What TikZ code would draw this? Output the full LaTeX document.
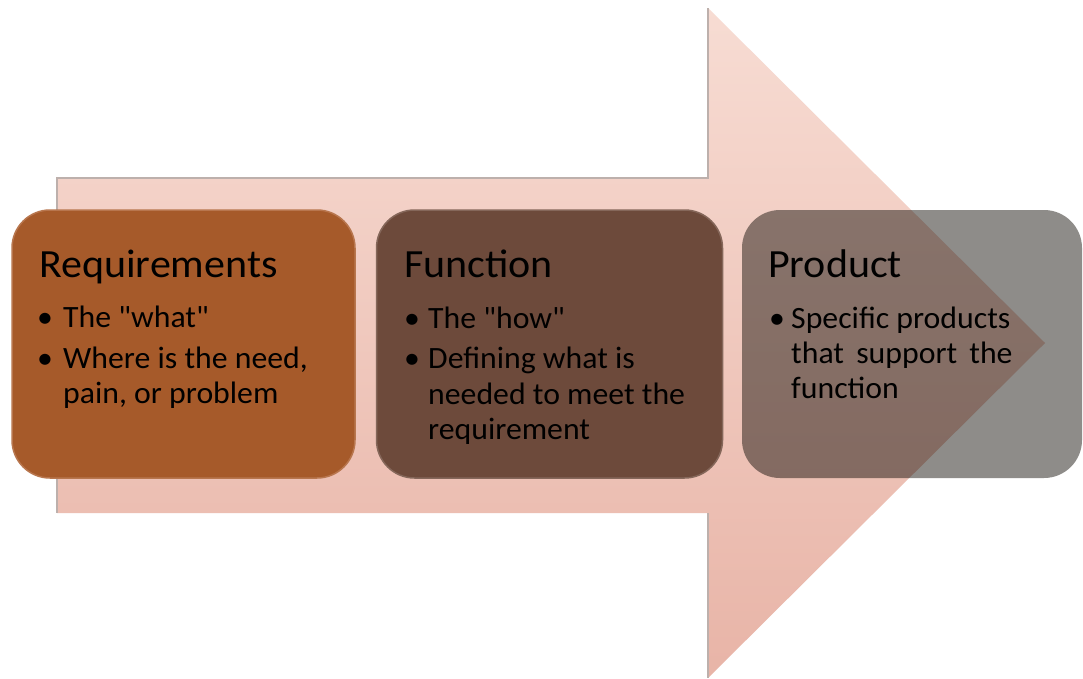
\documentclass[tikz,border=0pt]{standalone}
\usepackage{fontspec}
\setmainfont{Carlito}[Ligatures=TeXOff]
\definecolor{reqc}{HTML}{A65A2A}
\definecolor{reqedge}{HTML}{B8764E}
\definecolor{funcc}{HTML}{6D4A3B}
\definecolor{funcedge}{HTML}{85675A}
\definecolor{prodc}{HTML}{0F0B05}
\definecolor{arrtop}{HTML}{F7DCD3}
\definecolor{arrbot}{HTML}{E8B4A7}
\definecolor{arredge}{HTML}{BDB0AC}
\begin{document}
\begin{tikzpicture}[x=1pt,y=-1pt,
  box/.style={rounded corners=38pt, line width=1.5pt, inner sep=0pt},
  ttl/.style={anchor=base west, inner sep=0pt, font=\fontsize{40}{48}\selectfont, xscale=1.05},
  txt/.style={anchor=base west, inner sep=0pt, font=\fontsize{31}{36}\selectfont, xscale=1.025},
]
\useasboundingbox[fill=white] (0,0) rectangle (1083,678);
% big arrow
\path[top color=arrtop, bottom color=arrbot]
  (57,178) -- (708,178) -- (708,8) -- (1045,343) -- (708,678) -- (708,513) -- (57,513) -- cycle;
\draw[arredge, line width=1.2pt] (708,8) -- (708,178) -- (57,178) -- (57,513);
\draw[arredge, line width=1.2pt] (708,513) -- (708,678);
% boxes
\node[box, draw=reqedge, fill=reqc, minimum width=343pt, minimum height=268pt] (req) at (183.5,344) {};
\node[box, draw=funcedge, fill=funcc, minimum width=346pt, minimum height=268pt] (func) at (549.5,344) {};
\node[box, fill=prodc, fill opacity=0.47, minimum width=340pt, minimum height=268pt] (prod) at (912,344) {};
% Requirements text
\node[ttl] (reqT) at (39,277) {Requirements};
\node[txt] (reqB1) at (37,327) {\textbullet};
\node[txt] (req1) at (63,327) {The "what"};
\node[txt] (reqB2) at (37,368) {\textbullet};
\node[txt] (req2a) at (63,368) {Where is the need,};
\node[txt] (req2b) at (63,403) {pain, or problem};
% Function text
\node[ttl] (funcT) at (404,277) {Function};
\node[txt] (funcB1) at (404,328) {\textbullet};
\node[txt] (func1) at (428,328) {The "how"};
\node[txt] (funcB2) at (404,368) {\textbullet};
\node[txt] (func2a) at (428,368) {Defining what is};
\node[txt] (func2b) at (428,404) {needed to meet the};
\node[txt] (func2c) at (428,439) {requirement};
% Product text
\node[ttl] (prodT) at (768,277) {Product};
\node[txt] (prodB1) at (769,328) {\textbullet};
\node[txt] (prod1a) at (791,328) {Specific products};
\node[txt] (prod1b) at (791,363) {\makebox[216pt][s]{that support the}};
\node[txt] (prod1c) at (791,398) {function};
\end{tikzpicture}
\end{document}
